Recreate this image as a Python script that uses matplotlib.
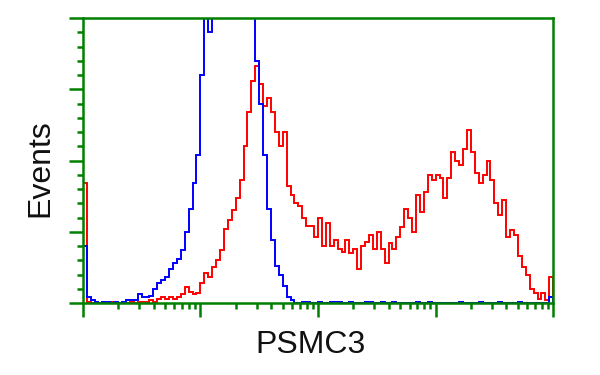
import numpy as np
import matplotlib
matplotlib.use("Agg")
import matplotlib.pyplot as plt
from matplotlib.ticker import LogLocator, MultipleLocator, NullFormatter

plt.rcParams['font.family'] = ['Liberation Sans', 'DejaVu Sans']

# histogram counts, 120 log-spaced channels from 10^0 to 10^4
red_counts = [
    42, 0.5, 0, 0.5, 0, 0, 0, 0.5, 0, 0,
    0, 0, 0.5, 0, 0.5, 0.5, 0.5, 1, 0.5, 1.5,
    2, 1.5, 2, 1.5, 2, 3, 5.5, 4, 3, 3.5,
    7, 10.5, 9, 12.5, 15, 18.5, 26, 29, 32.5, 37,
    43, 55, 67, 78, 83, 77, 69, 72, 67, 60,
    55, 60, 41, 38, 35, 34, 30, 27, 27, 23,
    30, 20, 28, 20, 22, 19, 18, 22, 17.5, 19,
    12, 20, 21.5, 24, 19, 25, 19, 14, 21, 19,
    23, 26.5, 33, 30, 25, 38, 32, 39, 45, 43,
    45, 44, 37, 44, 53, 50, 48.5, 54, 60.7, 53,
    45.6, 42, 45, 50, 43, 35, 31, 36, 23, 25.6,
    24, 16.5, 12.6, 10, 5, 3.5, 1.5, 3.5, 1, 9,
]
blue_counts = [
    20, 2, 1, 0.5, 0, 0.5, 0.5, 0, 0.5, 0,
    0.5, 1, 1, 1, 3, 2, 2, 2.5, 5, 7,
    8, 9, 12, 14, 15.5, 18.5, 25, 33, 42, 52,
    80, 110, 95, 115, 130, 140, 150, 155, 150, 145,
    135, 125, 115, 105, 85, 70, 52, 33, 22, 13,
    10, 6, 2, 1, 0, 0, 0.5, 0.5, 0, 0,
    0.5, 0, 0, 0.5, 0.5, 0.5, 0, 0, 0.5, 0,
    0, 0, 0.5, 0.5, 0, 0, 0.5, 0, 0, 0.5,
    0, 0, 0, 0, 0, 0.5, 0, 0, 0.5, 0,
    0, 0, 0, 0, 0, 0, 0.5, 0, 0, 0,
    0, 0.5, 0, 0, 0, 0, 0.5, 0, 0, 0,
    0, 0.5, 0, 0, 0, 0, 0, 0, 0, 2,
]
edges = np.logspace(0, 4, len(red_counts) + 1)

green = '#008000'

fig = plt.figure(figsize=(6, 3.75), dpi=100)
ax = fig.add_axes([0.138, 0.192, 0.784, 0.760])

ax.stairs(red_counts, edges, color='#ff0000', lw=1.4)
ax.stairs(blue_counts, edges, color='#0000ff', lw=1.4)

ax.set_xscale('log')
ax.set_xlim(1, 1e4)
ax.set_ylim(0, 100)

ax.xaxis.set_major_locator(LogLocator(base=10, numticks=10))
ax.xaxis.set_minor_locator(LogLocator(base=10, subs=np.arange(2, 10), numticks=10))
ax.xaxis.set_major_formatter(NullFormatter())
ax.xaxis.set_minor_formatter(NullFormatter())
ax.yaxis.set_major_locator(MultipleLocator(25))
ax.yaxis.set_minor_locator(MultipleLocator(5))
ax.yaxis.set_major_formatter(NullFormatter())

for s in ax.spines.values():
    s.set_color(green)
    s.set_linewidth(1.8)

ax.tick_params(which='major', direction='out', color=green, width=1.8, length=10)
ax.tick_params(which='minor', direction='out', color=green, width=1.8, length=4.5)
ax.tick_params(top=False, right=False, which='both')

fig.text(0.517, 0.08, 'PSMC3', fontsize=23, color='#111111', ha='center', va='center')
fig.text(0.067, 0.552, 'Events', fontsize=23, color='#111111', ha='center', va='center',
         rotation=90)

fig.savefig('out.png', dpi=100)
